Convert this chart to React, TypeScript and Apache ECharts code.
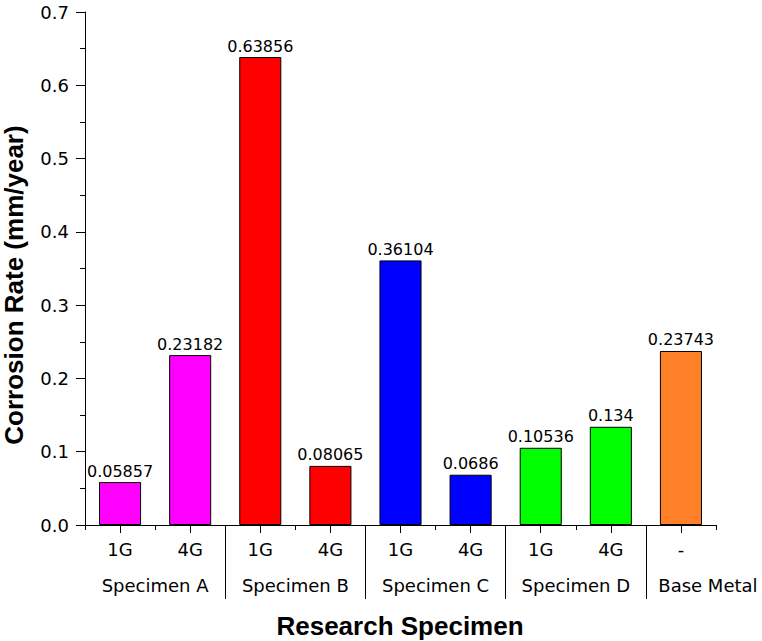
import React, { useEffect, useRef } from "react";
import * as echarts from "echarts";

const categories = ["1G", "4G", "1G", "4G", "1G", "4G", "1G", "4G", "-"];
const values = [0.05857, 0.23182, 0.63856, 0.08065, 0.36104, 0.0686, 0.10536, 0.134, 0.23743];
const barColors = ["#FF00FF", "#FF00FF", "#FF0000", "#FF0000", "#0000FF", "#0000FF", "#00FF00", "#00FF00", "#FF8028"];
// half-category slots (0..18) for group labels and separators
const groupSlots = ["", "", "Specimen A", "", "", "", "Specimen B", "", "", "", "Specimen C", "", "", "", "Specimen D", "", "", "Base Metal", ""];
const separatorSlots = [4, 8, 12, 16];
const yTicks = { min: 0, max: 0.7, interval: 0.1 };
const xTitle = "Research Specimen";
const yTitle = "Corrosion Rate (mm/year)";

const tickFont = "DejaVu Sans";
const titleFont = "'Liberation Sans', Arial, sans-serif";

export default function App() {
  const ref = useRef<HTMLDivElement>(null);
  useEffect(() => {
    document.body.style.margin = "0";
    if (!ref.current) return;
    const chart = echarts.init(ref.current, null, { renderer: "svg" });
    const axisLine = { show: true, lineStyle: { color: "#000", width: 1 } };
    chart.setOption({
      animation: false,
      backgroundColor: "#fff",
      grid: { left: 85, right: 46, top: 12, bottom: 116, containLabel: false },
      xAxis: [
        {
          type: "category",
          data: categories,
          axisLine,
          axisTick: { show: true, alignWithLabel: true, length: 8, lineStyle: { color: "#000" } },
          axisLabel: { margin: 15, fontSize: 18, fontFamily: tickFont, color: "#000" },
          splitLine: { show: false },
        },
        {
          type: "category",
          data: categories,
          position: "bottom",
          axisLine: { show: false },
          axisTick: { show: true, alignWithLabel: false, length: 5, lineStyle: { color: "#000" } },
          axisLabel: { show: false },
          splitLine: { show: false },
        },
        {
          type: "category",
          data: groupSlots,
          boundaryGap: false,
          position: "bottom",
          axisLine: { show: false },
          axisTick: {
            show: true,
            length: 74,
            interval: (i: number) => separatorSlots.includes(i),
            lineStyle: { color: "#000" },
          },
          axisLabel: {
            show: true,
            interval: (i: number) => groupSlots[i] !== "",
            margin: 51,
            fontSize: 18,
            fontFamily: tickFont,
            color: "#000",
            formatter: (v: string) => (v === "Base Metal" ? `{r|${v}}` : v),
            rich: {
              r: { fontSize: 18, fontFamily: tickFont, color: "#000", padding: [0, 0, 0, 54] },
            },
          },
          splitLine: { show: false },
        },
      ],
      yAxis: {
        type: "value",
        min: yTicks.min,
        max: yTicks.max,
        interval: yTicks.interval,
        axisLine,
        axisTick: { show: true, length: 9, lineStyle: { color: "#000" } },
        minorTick: { show: true, splitNumber: 2, length: 5, lineStyle: { color: "#000" } },
        splitLine: { show: false },
        minorSplitLine: { show: false },
        axisLabel: {
          margin: 16,
          fontSize: 18,
          fontFamily: tickFont,
          color: "#000",
          formatter: (v: number) => v.toFixed(1),
        },
      },
      series: [
        {
          type: "bar",
          xAxisIndex: 0,
          barWidth: "60%",
          data: values.map((v, i) => ({
            value: v,
            itemStyle: { color: barColors[i], borderColor: "#000", borderWidth: 1 },
          })),
          label: {
            show: true,
            position: "top",
            distance: 3,
            fontSize: 16,
            fontFamily: tickFont,
            color: "#000",
            formatter: (p: any) => String(p.value),
          },
        },
      ],
      graphic: [
        {
          type: "text",
          x: 400,
          y: 626,
          style: {
            text: xTitle,
            font: `bold 26px ${titleFont}`,
            fill: "#000",
            align: "center",
            verticalAlign: "middle",
          },
        },
        {
          type: "text",
          x: 14,
          y: 285,
          rotation: Math.PI / 2,
          style: {
            text: yTitle,
            font: `bold 26px ${titleFont}`,
            fill: "#000",
            align: "center",
            verticalAlign: "middle",
          },
        },
      ],
    });
    return () => chart.dispose();
  }, []);
  return <div ref={ref} style={{ width: 762, height: 641 }} />;
}
